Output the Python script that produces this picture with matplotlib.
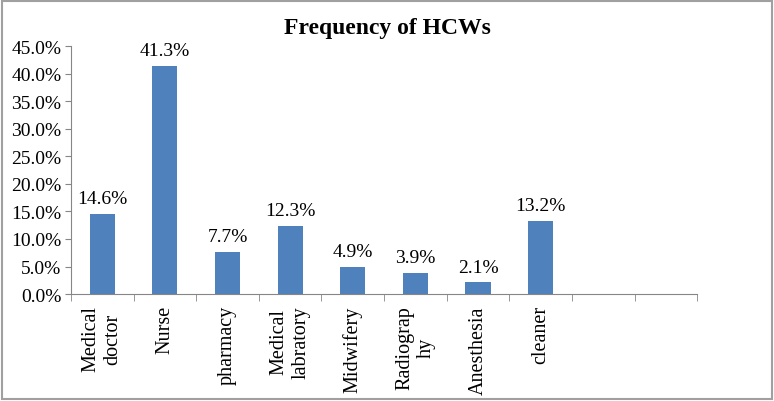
import matplotlib.pyplot as plt
from matplotlib.patches import Rectangle

# Health care worker categories and their share (%)
categories = ['Medical\ndoctor', 'Nurse', 'pharmacy', 'Medical\nlabratory', 'Midwifery',
              'Radiograp\nhy', 'Anesthesia', 'cleaner', '', '']
values = [14.6, 41.3, 7.7, 12.3, 4.9, 3.9, 2.1, 13.2]
yticks = [0, 5, 10, 15, 20, 25, 30, 35, 40, 45]

plt.rcParams['font.family'] = ['Liberation Serif', 'DejaVu Serif']

fig = plt.figure(figsize=(7.74, 4.02), dpi=100)
ax = fig.add_axes([0.0917, 0.266, 0.809, 0.617])

x = list(range(len(values)))
ax.bar(x, values, width=0.4, color='#4F81BD')

# value labels above bars
for i, v in enumerate(values):
    ax.annotate(f'{v:.1f}%', (i, v), xytext=(0, 5), textcoords='offset points',
                ha='center', va='bottom', fontsize=14)

ax.set_xlim(-0.5, len(categories) - 0.5)
ax.set_ylim(0, 45)
ax.set_yticks(yticks)
ax.set_yticklabels([f'{t:.1f}%' for t in yticks], fontsize=14)

ax.set_xticks(range(len(categories)))
ax.set_xticklabels(categories, rotation=90, fontsize=14.5, va='top', ha='center',
                   multialignment='center', linespacing=1.2)
ax.tick_params(axis='x', which='major', length=0, pad=8)
ax.set_xticks([i - 0.5 for i in range(len(categories) + 1)], minor=True)
ax.tick_params(axis='x', which='minor', length=5, color='#868686', direction='out')
ax.tick_params(axis='y', length=4, color='#868686', direction='out', pad=3)

for s in ['top', 'right']:
    ax.spines[s].set_visible(False)
for s in ['left', 'bottom']:
    ax.spines[s].set_color('#868686')

fig.text(0.5, 0.928, 'Frequency of HCWs', ha='center', va='center',
         fontsize=17, fontweight='bold')

# outer chart border
fig.patches.append(Rectangle((0.003, 0.005), 0.994, 0.99, transform=fig.transFigure,
                             fill=False, edgecolor='#A0A0A0', linewidth=1.5))

fig.savefig('out.png', dpi=100)
